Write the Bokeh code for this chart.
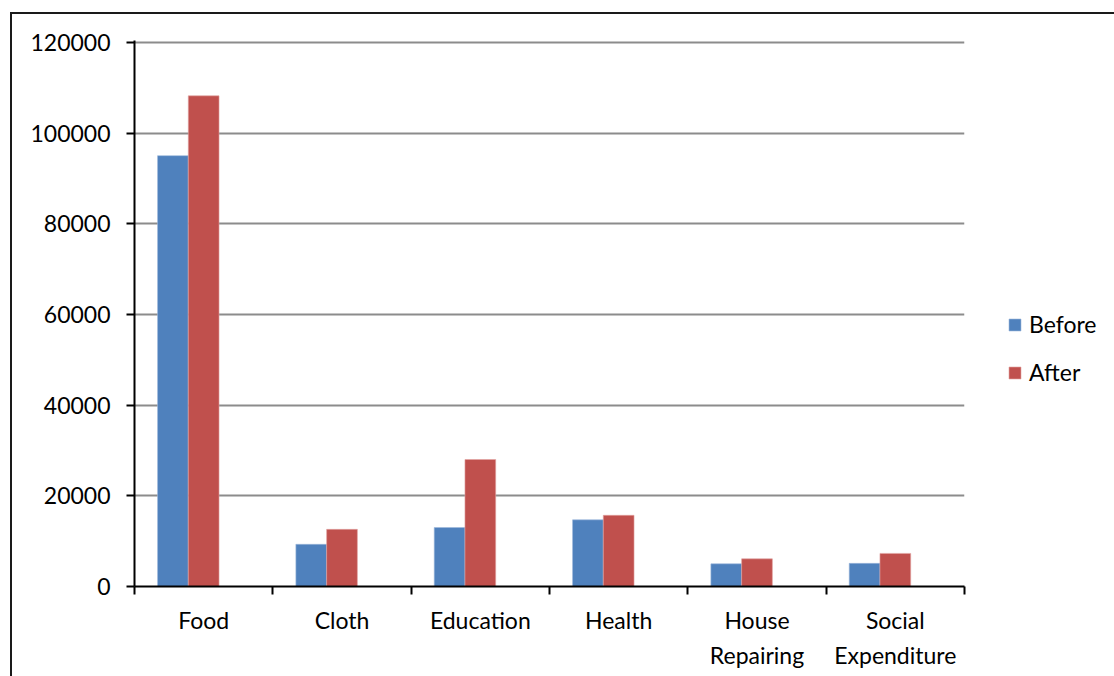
from bokeh.plotting import figure
from bokeh.models import (ColumnDataSource, Range1d, FixedTicker, NumeralTickFormatter,
                          Legend, LegendItem)
from bokeh.transform import dodge
from bokeh.embed import file_html
from bokeh.resources import INLINE

categories = ["Food", "Cloth", "Education", "Health", "House\nRepairing", "Social\nExpenditure"]
before = [95000, 9300, 13000, 14700, 5000, 5100]
after = [108200, 12600, 28000, 15700, 6100, 7300]
y_ticks = [0, 20000, 40000, 60000, 80000, 100000, 120000]

FONT = "Lato"
FS = "23px"

xs = [i + 0.5 for i in range(len(categories))]
src = ColumnDataSource(dict(x=xs, before=before, after=after))

p = figure(output_backend="svg", toolbar_location=None,
           frame_width=830, frame_height=546,
           x_range=Range1d(0, 6), y_range=Range1d(0, 120400),
           min_border_left=122, min_border_top=26, min_border_right=0, min_border_bottom=90,
           margin=(12, 0, 0, 10))
p.styles = {"border-left": "2px solid #1a1a1a", "border-top": "2px solid #1a1a1a"}
p.outline_line_color = None
p.background_fill_color = "white"
p.border_fill_color = "white"

w = 2 / 9
r1 = p.vbar(x=dodge("x", -w, range=p.x_range), top="before", width=w, source=src,
            fill_color="#4F81BD", line_color="#9DB9DC", line_width=0.6)
r2 = p.vbar(x=dodge("x", 0, range=p.x_range), top="after", width=w, source=src,
            fill_color="#C0504D", line_color="#E3A4A2", line_width=0.6)

# x axis
xa = p.xaxis[0]
xa.ticker = FixedTicker(ticks=xs, minor_ticks=list(range(len(categories) + 1)))
xa.major_label_overrides = {x: c for x, c in zip(xs, categories)}
xa.major_tick_out = 0
xa.major_tick_in = 0
xa.minor_tick_out = 8
xa.minor_tick_in = 0
xa.minor_tick_line_color = "black"
xa.minor_tick_line_width = 2
xa.axis_line_color = "black"
xa.axis_line_width = 2
xa.major_label_text_font = FONT
xa.major_label_text_font_size = FS
xa.major_label_text_color = "black"
xa.major_label_standoff = 11
xa.major_label_text_line_height = 1.25

# y axis
ya = p.yaxis[0]
ya.ticker = FixedTicker(ticks=y_ticks, minor_ticks=[])
ya.formatter = NumeralTickFormatter(format="0")
ya.major_tick_out = 8
ya.major_tick_in = 0
ya.major_tick_line_color = "black"
ya.major_tick_line_width = 2
ya.minor_tick_line_color = None
ya.axis_line_color = "black"
ya.axis_line_width = 2
ya.major_label_text_font = FONT
ya.major_label_text_font_size = FS
ya.major_label_text_color = "black"
ya.major_label_standoff = 16

p.xgrid.grid_line_color = None
p.ygrid.ticker = FixedTicker(ticks=y_ticks)
p.ygrid.grid_line_color = "#8C8C8C"
p.ygrid.grid_line_width = 2

legend = Legend(items=[LegendItem(label="Before", renderers=[r1]),
                       LegendItem(label="After", renderers=[r2])],
                location=(43, 200), orientation="vertical",
                glyph_width=15, glyph_height=15, label_height=15,
                label_standoff=7, spacing=20, padding=0, margin=0,
                border_line_color=None, background_fill_alpha=0,
                label_text_font=FONT, label_text_font_size=FS, label_text_color="black")
p.add_layout(legend, "right")

open("out.html", "w").write(file_html(p, INLINE))
